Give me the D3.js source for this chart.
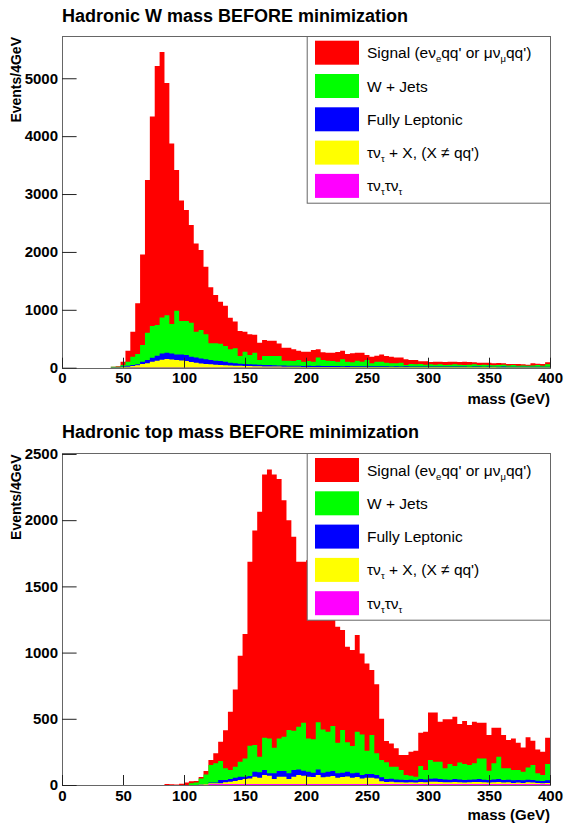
<!DOCTYPE html>
<html><head><meta charset="utf-8">
<script src="https://cdn.jsdelivr.net/npm/d3@7"></script>
<style>body{margin:0;background:#fff}svg{display:block}</style>
</head><body>
<svg id="c" width="565" height="825"></svg>
<script>
// ---------- binning ----------
const massMin = 0, massMax = 400, binWidth = 4, nBins = 100;

// ---------- series names / colours (legend order) ----------
const seriesKeys = ["signal", "wjets", "fullylep", "taux", "tautau"];
const seriesColors = ["#ff0000", "#00ff00", "#0000ff", "#ffff00", "#ff00ff"];
const legendLabels = [
  [{t:"Signal (eν"},{t:"e",sub:1},{t:"qq' or μν"},{t:"μ",sub:1},{t:"qq')"}],
  [{t:"W + Jets"}],
  [{t:"Fully Leptonic"}],
  [{t:"τν"},{t:"τ",sub:1},{t:" + X, (X ≠ qq')"}],
  [{t:"τν"},{t:"τ",sub:1},{t:"τν"},{t:"τ",sub:1}]
];

// ---------- Hadronic W mass (events per 4 GeV bin) ----------
const wSignal = [
0,0,0,0,0,0,0,0,0,0,
0,10,59,190,432,875,1566,2637,3622,4474,
4583,4012,3121,2430,2085,1918,1688,1526,1382,1168,
967,835,725,696,546,466,432,344,357,311,
300,277,265,265,219,224,224,202,162,172,
161,201,139,133,138,144,166,150,132,156,
138,155,87,115,103,126,115,115,103,92,
98,69,74,47,58,40,52,46,52,52,
46,46,58,46,34,40,34,40,35,34,
23,23,17,28,18,17,35,23,28,34];
const wWJets = [
0,0,0,0,0,0,0,0,0,0,
10,7,25,69,145,177,288,473,547,530,
622,646,507,755,576,587,587,444,490,433,
289,300,300,271,232,259,131,211,161,204,
82,153,156,159,161,83,86,82,97,74,
83,74,145,104,91,87,74,117,76,66,
94,79,108,49,81,79,62,53,52,64,
22,42,36,43,30,37,32,37,27,32,
37,33,26,34,39,26,34,27,23,28,
33,23,28,18,24,17,23,30,18,42];
const wFullyLep = [
0,0,0,0,0,0,0,0,0,0,
5,5,10,17,15,18,41,52,69,86,
110,109,104,98,103,104,92,92,86,81,
74,71,69,62,48,40,38,35,30,29,
26,26,24,22,21,20,20,18,20,16,
18,16,19,14,16,14,16,14,15,13,
14,12,11,13,11,12,11,10,11,10,
12,10,11,9,11,10,9,10,9,10,
11,9,10,8,9,10,8,9,8,9,
10,8,9,8,7,9,8,7,8,7];
const wTauX = [
0,0,0,0,0,0,0,0,0,0,
0,3,10,18,28,40,60,77,101,118,
135,147,141,129,124,112,95,83,72,61,
56,48,44,40,36,33,30,28,26,24,
22,20,19,18,17,16,15,15,15,14,
14,14,14,14,14,14,14,13,13,13,
13,13,13,13,12,13,13,12,12,12,
12,11,11,11,11,11,11,11,10,10,
10,10,10,10,10,10,10,10,10,9,
9,9,9,9,9,9,9,9,9,9];
const wTauTau = [
0,0,0,0,0,0,0,0,0,0,
0,0,0,0,2,2,2,2,2,2,
2,2,2,2,2,2,2,2,2,2,
2,2,2,2,2,2,2,2,2,2,
2,2,2,2,2,2,0,0,0,0,
0,0,0,0,0,0,0,0,0,0,
0,0,0,0,0,0,0,0,0,0,
0,0,0,0,0,0,0,0,0,0,
0,0,0,0,0,0,0,0,0,0,
0,0,0,0,0,0,0,0,0,0];

// ---------- Hadronic top mass (events per 4 GeV bin) ----------
const tSignal = [
0,0,0,0,0,0,0,0,0,0,
0,0,0,0,0,0,0,0,0,0,
0,8,5,3,10,18,15,12,10,26,
38,75,146,287,440,584,800,939,1389,1620,
1849,1988,2031,2063,1958,1786,1585,1464,1246,1216,
1346,1227,999,926,855,813,875,755,722,725,
729,612,659,491,521,311,161,176,139,113,
151,182,196,252,290,359,372,302,370,338,
373,291,325,302,314,269,269,269,269,219,
251,214,239,207,183,227,184,181,177,199];
const tWJets = [
0,0,0,0,0,0,0,0,0,0,
0,0,0,0,0,0,0,0,0,0,
0,0,0,0,0,0,13,18,45,72,
133,146,143,88,68,83,113,138,229,202,
118,244,264,194,246,259,327,297,322,362,
251,252,355,327,302,339,232,322,221,206,
310,307,176,294,164,131,126,90,96,73,
37,30,28,98,71,141,126,131,84,118,
98,127,120,111,122,156,161,70,122,169,
88,86,78,75,66,93,113,55,45,123];
const tFullyLep = [
0,0,0,0,0,0,0,0,0,0,
0,0,0,0,0,0,0,0,0,0,
0,0,0,0,0,0,0,0,2,3,
5,5,25,18,20,25,25,18,18,37,
41,38,18,43,43,43,43,50,43,38,
38,33,43,35,38,38,33,33,36,33,
33,25,28,28,25,30,23,23,22,20,
20,20,17,23,22,23,25,23,22,20,
23,22,20,20,20,23,20,20,22,23,
20,20,19,20,19,20,20,18,16,19];
const tTauX = [
0,0,0,0,0,0,0,0,0,0,
0,0,0,0,0,0,0,0,0,0,
0,0,0,0,0,0,0,0,3,5,
5,5,5,12,17,22,30,37,42,55,
47,67,62,37,55,55,37,55,67,62,
55,52,67,50,55,60,47,52,57,47,
52,42,47,47,42,20,14,17,12,12,
10,12,10,14,12,17,17,14,12,12,
14,12,10,12,14,14,12,10,12,14,
10,12,8,10,8,12,10,7,6,8];
const tTauTau = [
0,0,0,0,0,0,0,0,0,0,
0,0,0,0,0,0,0,0,0,0,
0,0,0,0,0,0,0,0,0,0,
8,8,8,8,8,8,8,8,8,8,
8,8,8,8,8,8,8,8,8,8,
8,8,8,8,8,8,8,8,8,8,
8,8,8,8,8,8,8,8,8,8,
8,8,8,8,8,8,8,8,8,8,
8,8,8,8,8,8,8,8,8,8,
8,8,8,8,8,8,8,8,8,8];

// ---------- axis tick definitions ----------
const xMajorTicks = [0,50,100,150,200,250,300,350,400];
const wYMajorTicks = [0,1000,2000,3000,4000,5000];
const tYMajorTicks = [0,500,1000,1500,2000,2500];

const panels = [
  {title:"Hadronic W mass BEFORE minimization", top:36, bottom:367.7, yMax:5730,
   yMajor:wYMajorTicks, yMinorStep:200, titleY:22, xLabelY:404,
   series:[wSignal,wWJets,wFullyLep,wTauX,wTauTau]},
  {title:"Hadronic top mass BEFORE minimization", top:453.3, bottom:785, yMax:2505,
   yMajor:tYMajorTicks, yMinorStep:100, titleY:438, xLabelY:820,
   series:[tSignal,tWJets,tFullyLep,tTauX,tTauTau]}
];

const FONT = "'Liberation Sans', Arial, Helvetica, sans-serif";
const svg = d3.select("#c");
const frameL = 62, frameR = 550;

panels.forEach((p, pi) => {
  const g = svg.append("g");
  const x = d3.scaleLinear().domain([massMin, massMax]).range([frameL, frameR]);
  const y = d3.scaleLinear().domain([0, p.yMax]).range([p.bottom, p.top]);

  const rows = d3.range(nBins).map(i => {
    const r = {};
    seriesKeys.forEach((k, j) => r[k] = p.series[j][i]);
    return r;
  });
  const stackOrder = seriesKeys.slice().reverse(); // tautau bottom ... signal top
  const layers = d3.stack().keys(stackOrder)(rows);

  const clipId = "clip" + pi;
  svg.append("clipPath").attr("id", clipId).append("rect")
    .attr("x", frameL).attr("y", p.top).attr("width", frameR - frameL).attr("height", p.bottom - p.top);

  const area = d3.area().x(d => x(d.m)).y0(y(0)).y1(d => y(d.v));
  const hg = g.append("g").attr("clip-path", `url(#${clipId})`);
  layers.slice().reverse().forEach(layer => {
    const pts = [];
    layer.forEach((d, i) => {
      const lo = massMin + i * binWidth;
      pts.push({m: lo, v: d[1]}, {m: lo + binWidth, v: d[1]});
    });
    hg.append("path").attr("d", area(pts))
      .attr("fill", seriesColors[seriesKeys.indexOf(layer.key)]);
  });

  // frame
  g.append("rect").attr("x", frameL + 0.5).attr("y", Math.round(p.top) + 0.5)
    .attr("width", frameR - frameL).attr("height", Math.round(p.bottom) - Math.round(p.top))
    .attr("fill", "none").attr("stroke", "#666").attr("stroke-width", 1);

  // x axis
  const xMinor = d3.range(massMin, massMax + 1, 10).filter(v => !xMajorTicks.includes(v));
  const xa = g.append("g").attr("transform", `translate(0,${p.bottom})`);
  xa.call(d3.axisBottom(x).tickValues(xMinor).tickSize(-5).tickFormat(""));
  xa.call(d3.axisBottom(x).tickValues(xMajorTicks).tickSize(-10).tickPadding(5).tickFormat(d3.format("d")));
  xa.select(".domain").remove();
  xa.selectAll("line").attr("stroke", "#222");
  xa.selectAll("text").attr("font-family", FONT).attr("font-size", 15).attr("font-weight", "bold").attr("fill", "#000");

  // y axis
  const yMinor = d3.range(0, p.yMax, p.yMinorStep).filter(v => !p.yMajor.includes(v));
  const ya = g.append("g").attr("transform", `translate(${frameL},0)`);
  ya.call(d3.axisLeft(y).tickValues(yMinor).tickSize(-7.3).tickFormat(""));
  ya.call(d3.axisLeft(y).tickValues(p.yMajor).tickSize(-14.6).tickPadding(4).tickFormat(d3.format("d")));
  ya.select(".domain").remove();
  ya.selectAll("line").attr("stroke", "#222");
  ya.selectAll("text").attr("font-family", FONT).attr("font-size", 15).attr("font-weight", "bold").attr("fill", "#000");

  // titles
  svg.append("text").attr("x", 62).attr("y", p.titleY).text(p.title)
    .attr("font-family", FONT).attr("font-size", 18).attr("font-weight", "bold");
  svg.append("text").attr("transform", `translate(21,${p.top + 1}) rotate(-90)`)
    .attr("text-anchor", "end").text("Events/4GeV")
    .attr("font-family", FONT).attr("font-size", 14).attr("font-weight", "bold");
  svg.append("text").attr("x", frameR).attr("y", p.xLabelY).attr("text-anchor", "end")
    .text("mass (GeV)").attr("font-family", FONT).attr("font-size", 15).attr("font-weight", "bold");

  // legend
  const lx = 306.7, lw = frameR - lx, lh = 166.7;
  const lg = svg.append("g");
  lg.append("rect").attr("x", lx + 0.5).attr("y", Math.round(p.top) + 0.5).attr("width", lw).attr("height", lh)
    .attr("fill", "#fff").attr("stroke", "#666");
  seriesKeys.forEach((k, j) => {
    const cy = p.top + 16.7 + j * 33.3;
    lg.append("rect").attr("x", 315).attr("y", cy - 12).attr("width", 44).attr("height", 24)
      .attr("fill", seriesColors[j]);
    const t = lg.append("text").attr("x", 367).attr("y", cy + 5.5)
      .attr("font-family", FONT).attr("font-size", 15.5).attr("fill", "#000");
    let prevSub = false;
    legendLabels[j].forEach(part => {
      const ts = t.append("tspan").text(part.t);
      if (part.sub) { ts.attr("dy", 4).attr("font-size", 9.5); prevSub = true; }
      else { if (prevSub) ts.attr("dy", -4); prevSub = false; }
    });
  });
});
</script>
</body></html>
